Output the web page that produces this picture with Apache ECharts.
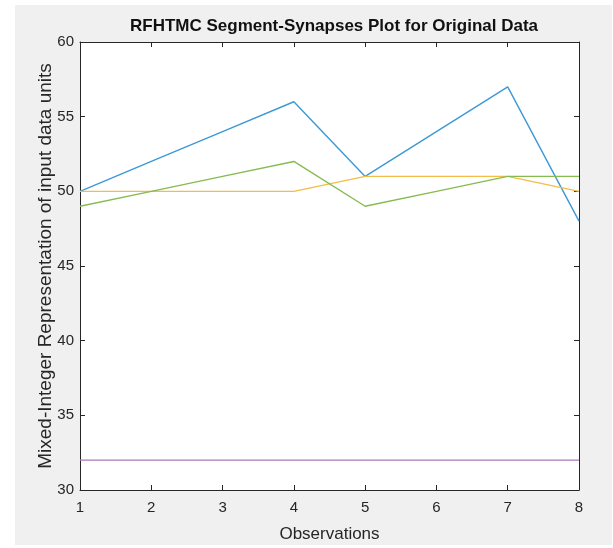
<!DOCTYPE html>
<html>
<head>
<meta charset="utf-8">
<script src="https://cdn.jsdelivr.net/npm/echarts@6/dist/echarts.min.js"></script>
<style>html,body{margin:0;padding:0;background:#fff;}#c{width:613px;height:548px;}</style>
</head>
<body>
<div id="c"></div>
<script>
const observations = [1, 2, 3, 4, 5, 6, 7, 8];
const seriesBlue = [50, 52, 54, 56, 51, 54, 57, 48];
const seriesYellow = [50, 50, 50, 50, 51, 51, 51, 50];
const seriesGreen = [49, 50, 51, 52, 49, 50, 51, 51];
const seriesPurple = [32, 32, 32, 32, 32, 32, 32, 32];
const titleText = 'RFHTMC Segment-Synapses Plot for Original Data';
const xLabel = 'Observations';
const yLabel = 'Mixed-Integer Representation of input data units';

const pair = arr => observations.map((x, i) => [x, arr[i]]);
const font = 'Liberation Sans, Arial, Helvetica, sans-serif';
const axisCol = '#262626';

const chart = echarts.init(document.getElementById('c'), null, {renderer: 'canvas'});
const mkLine = (name, data, color) => ({
  name, type: 'line', data: pair(data), symbol: 'none',
  lineStyle: {color, width: 1.4}, itemStyle: {color}, z: 3, animation: false
});
chart.setOption({
  animation: false,
  backgroundColor: '#ffffff',
  graphic: [{type: 'rect', shape: {x: 15, y: 5, width: 597, height: 540}, style: {fill: '#f0f0f0'}, z: -10, silent: true},
            {type: 'rect', shape: {x: 80, y: 42, width: 499, height: 448}, style: {fill: '#ffffff'}, z: -9, silent: true}],
  title: {text: titleText, left: 329, top: 13, textAlign: 'center',
    textStyle: {fontFamily: font, fontSize: 17, fontWeight: 'bold', color: '#111'}},
  grid: {left: 80, right: 34, top: 42, bottom: 58, containLabel: false},
  xAxis: [{
    type: 'value', min: 1, max: 8, interval: 1, position: 'bottom',
    name: xLabel, nameLocation: 'middle', nameGap: 36,
    nameTextStyle: {fontFamily: font, fontSize: 17, color: axisCol},
    axisLine: {show: true, lineStyle: {color: axisCol, width: 1}},
    axisTick: {show: true, inside: true, length: 5, lineStyle: {color: axisCol}},
    axisLabel: {fontFamily: font, fontSize: 15, color: axisCol, margin: 10},
    splitLine: {show: false}
  }, {
    type: 'value', min: 1, max: 8, interval: 1, position: 'top',
    axisLine: {show: true, lineStyle: {color: axisCol, width: 1}},
    axisTick: {show: true, inside: true, length: 5, lineStyle: {color: axisCol}},
    axisLabel: {show: false}, splitLine: {show: false}
  }],
  yAxis: [{
    type: 'value', min: 30, max: 60, interval: 5, position: 'left',
    name: yLabel, nameLocation: 'middle', nameGap: 25, nameRotate: 90,
    nameMoveOverlap: false,
    nameTextStyle: {fontFamily: font, fontSize: 19, color: axisCol},
    axisLine: {show: true, lineStyle: {color: axisCol, width: 1}},
    axisTick: {show: true, inside: true, length: 5, lineStyle: {color: axisCol}},
    axisLabel: {fontFamily: font, fontSize: 15, color: axisCol, margin: 6},
    splitLine: {show: false}
  }, {
    type: 'value', min: 30, max: 60, interval: 5, position: 'right',
    axisLine: {show: true, lineStyle: {color: axisCol, width: 1}},
    axisTick: {show: true, inside: true, length: 5, lineStyle: {color: axisCol}},
    axisLabel: {show: false}, splitLine: {show: false}
  }],
  series: [
    mkLine('s1', seriesBlue, '#3d98d6'),
    mkLine('s2', seriesYellow, '#f2bd48'),
    mkLine('s3', seriesPurple, '#a97ab8'),
    mkLine('s4', seriesGreen, '#86bb50')
  ]
});
</script>
</body>
</html>
